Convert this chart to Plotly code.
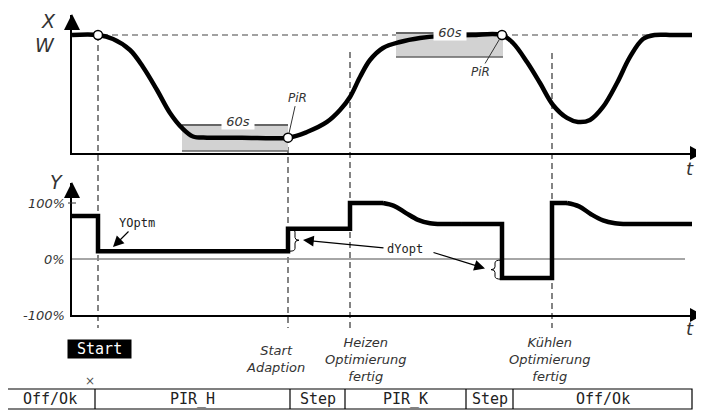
import plotly.graph_objects as go

# the page body adds an 8 px margin, so the figure is 8 px smaller and
# all pixel positions below are given in window coordinates
PAGE = 8
W, H = 704 - PAGE, 412 - PAGE

# upper panel: controlled value X (setpoint W = 100), time in plot units
X_T = [0, 26, 41, 58, 71, 85, 98, 110, 121, 135, 170, 216, 235, 255, 268, 278, 288,
       298, 311, 328, 348, 368, 400, 430, 441, 455, 468, 481, 495, 506, 518, 531,
       545, 558, 571, 583, 600, 620]
X_V = [100, 100, 96.6, 87.3, 72.9, 53.4, 33.9, 21.2, 14, 13, 13, 13, 17.8, 26.3, 36.4,
       47.5, 64.4, 78.8, 89, 94.1, 97.5, 99.2, 100, 100, 93.2, 77.1, 59.3, 40.7, 29.7,
       26.3, 28, 39, 59.3, 81.4, 96.6, 100, 100, 100]
PIR_T = [26, 216, 430]
PIR_V = [100, 13, 100]

# 60 s plateau windows
WIN_T0 = [110, 324]
WIN_T1 = [216, 431]
WIN_LO = [1.7, 81.4]
WIN_HI = [23.7, 101.7]

# lower panel: output Y in %
Y_T = [0, 26, 26, 216, 216, 278, 278, 311, 322, 334, 346, 358, 372, 390, 430, 430,
       480, 480, 495, 507, 519, 531, 543, 557, 575, 620]
Y_V = [77, 77, 14, 14, 54, 54, 100, 100, 95, 82, 70, 64, 62.5, 62.5, 62.5, -34,
       -34, 100, 100, 94, 80, 69, 64, 62.5, 62.5, 62.5]
Y_SEGMENTS = [(0, 7, "linear"), (7, 13, "spline"), (13, 18, "linear"),
              (18, 24, "spline"), (24, 25, "linear")]

EVENT_T = [26, 216, 278, 480]
EVENT_TOP = [35, 137, 52, 53]  # px where the dashed marker starts

TABLE_EDGES = [5, 95, 290, 345, 466, 513, 692]
TABLE_LABELS = ["Off/Ok", "PIR_H", "Step", "PIR_K", "Step", "Off/Ok"]

ITALIC = "'DejaVu Sans', sans-serif"
MONO = "'DejaVu Sans Mono', monospace"


def px(x):
    return (x - PAGE) / W


def py(y):
    return 1 - (y - PAGE) / H


def tri(pts):
    return "M" + " L".join(f"{px(x)},{py(y)}" for x, y in pts) + " Z"


def brace(t0, tm, tip, ya, yb, dy=5):
    ym = (ya + yb) / 2
    return (f"M{t0},{ya} Q{tm},{ya} {tm},{ya - dy} L{tm},{ym + dy} Q{tm},{ym} {tip},{ym} "
            f"Q{tm},{ym} {tm},{ym - dy} L{tm},{yb + dy} Q{tm},{yb} {t0},{yb}")


fig = go.Figure()

fig.add_trace(go.Scatter(x=X_T, y=X_V, mode="lines", line=dict(color="black", width=4.5,
                         shape="spline", smoothing=1), xaxis="x", yaxis="y"))
fig.add_trace(go.Scatter(x=PIR_T, y=PIR_V, mode="markers", cliponaxis=False,
                         marker=dict(size=9, color="white", line=dict(color="black", width=1.5)),
                         xaxis="x", yaxis="y"))
for a, b, shape in Y_SEGMENTS:
    fig.add_trace(go.Scatter(x=Y_T[a:b + 1], y=Y_V[a:b + 1], mode="lines",
                             line=dict(color="black", width=4.5, shape=shape),
                             xaxis="x2", yaxis="y2"))

shapes = []
# setpoint W
shapes.append(dict(type="line", xref="x", yref="y", x0=0, x1=618, y0=100, y1=100,
                   line=dict(color="#444", width=1.2, dash="6px,4px"), layer="below"))
# 60 s windows
for t0, t1, lo, hi in zip(WIN_T0, WIN_T1, WIN_LO, WIN_HI):
    shapes.append(dict(type="rect", xref="x", yref="y", x0=t0, x1=t1, y0=lo, y1=hi,
                       fillcolor="#d2d2d2", line=dict(width=0), layer="below"))
    shapes.append(dict(type="line", xref="x", yref="y", x0=t0, x1=t1, y0=hi, y1=hi,
                       line=dict(color="#666", width=2), layer="below"))
    shapes.append(dict(type="line", xref="x", yref="y", x0=t0, x1=t1, y0=lo, y1=lo,
                       line=dict(color="#666", width=1.5), layer="below"))
# 0 % line
shapes.append(dict(type="line", xref="x2", yref="y2", x0=0, x1=613, y0=0, y1=0,
                   line=dict(color="#888", width=1.5), layer="below"))
# event markers
for t, top in zip(EVENT_T, EVENT_TOP):
    shapes.append(dict(type="line", xref="x", yref="paper", x0=t, x1=t, y0=py(top), y1=py(328),
                       line=dict(color="#333", width=1.2, dash="6px,4px"), layer="below"))
# 100 % tick
shapes.append(dict(type="line", xref="paper", yref="y2", x0=px(68), x1=px(76), y0=100, y1=100,
                   line=dict(color="#333", width=1)))
# axis arrow heads
for pts in ([(72, 14), (64, 30), (80, 30)], [(72, 182), (64, 198), (80, 198)],
            [(703, 153), (690, 146), (690, 160)], [(703, 315), (690, 308), (690, 322)]):
    shapes.append(dict(type="path", xref="paper", yref="paper", path=tri(pts),
                       fillcolor="black", line=dict(width=0)))
# braces for dYopt
shapes.append(dict(type="path", xref="x2", yref="y2", path=brace(218, 223, 227, 53, 14),
                   line=dict(color="black", width=1)))
shapes.append(dict(type="path", xref="x2", yref="y2", path=brace(429, 423, 419, -2, -36),
                   line=dict(color="black", width=1)))
# state table
shapes.append(dict(type="rect", xref="paper", yref="paper", x0=px(5), x1=px(692),
                   y0=py(409), y1=py(389), line=dict(color="black", width=1.2)))
for e in TABLE_EDGES[1:-1]:
    shapes.append(dict(type="line", xref="paper", yref="paper", x0=px(e), x1=px(e),
                       y0=py(409), y1=py(389), line=dict(color="black", width=1.2)))

ann = []


def note(x, y, text, size=13, family=ITALIC, italic=True, color="#333",
         xanchor="center", yanchor="middle", **kw):
    ann.append(dict(xref="paper", yref="paper", x=px(x), y=py(y), text=text, showarrow=False,
                    xanchor=xanchor, yanchor=yanchor,
                    font=dict(family=family, size=size, color=color,
                              style="italic" if italic else "normal"), **kw))


note(48, 21, "X", size=19)
note(45, 45, "W", size=19)
note(56, 182, "Y", size=19)
note(690, 168, "t", size=18)
note(690, 328, "t", size=18)
note(67, 203, "100%", xanchor="right")
note(67, 259, "0%", xanchor="right")
note(67, 315, "-100%", xanchor="right")

# 60s labels
for t, v in [(166, 27.1), (378, 102.5)]:
    ann.append(dict(xref="x", yref="y", x=t, y=v, text=" 60s ", showarrow=False,
                    bgcolor="white", borderpad=0,
                    font=dict(family=ITALIC, size=13, color="#333", style="italic")))
# PiR callouts
for (t, v), (ax, ay) in zip([(PIR_T[1], PIR_V[1]), (PIR_T[2], PIR_V[2])], [(9, -40), (-22, 37)]):
    ann.append(dict(xref="x", yref="y", x=t, y=v, text="PiR", ax=ax, ay=ay, showarrow=True,
                    arrowhead=0, arrowwidth=1, arrowcolor="#333", standoff=4,
                    font=dict(family=ITALIC, size=12, color="#333", style="italic")))

# YOptm / dYopt
ann.append(dict(xref="x2", yref="y2", x=41, y=21.4, text="YOptm", ax=24, ay=-24,
                showarrow=True, arrowhead=2, arrowsize=1.8, arrowwidth=1.2, arrowcolor="black",
                font=dict(family=MONO, size=12, color="#222")))
ann.append(dict(xref="x2", yref="y2", x=333, y=17.9, text="dYopt", showarrow=False,
                font=dict(family=MONO, size=12, color="#222")))
for tip, tail in [((231, 33.9), (313, 19.6)), ((413, -17), (360, 12.5))]:
    ann.append(dict(xref="x2", yref="y2", x=tip[0], y=tip[1], ax=tail[0], ay=tail[1],
                    axref="x2", ayref="y2", text="", showarrow=True, arrowhead=2,
                    arrowsize=1.8, arrowwidth=1.2, arrowcolor="black"))

# event captions
note(99, 349, " Start ", size=15, family=MONO, italic=False, color="white",
     bgcolor="black", borderpad=0)
note(90, 381, "×", size=12, italic=False, color="#555")
note(275, 359, "Start<br>Adaption", align="center")
note(366, 359, "Heizen<br>Optimierung<br>fertig", align="center")
note(550, 359, "Kühlen<br>Optimierung<br>fertig", align="center")

for a, b, lab in zip(TABLE_EDGES[:-1], TABLE_EDGES[1:], TABLE_LABELS):
    note((a + b) / 2, 399, lab, size=15, family=MONO, italic=False, color="#222")

axis_common = dict(showgrid=False, zeroline=False, showticklabels=False, ticks="",
                   showline=True, linecolor="black", linewidth=1.5, fixedrange=True)

fig.update_layout(
    width=W, height=H,
    margin=dict(l=0, r=0, t=0, b=0),
    paper_bgcolor="white",
    plot_bgcolor="white",
    showlegend=False,
    xaxis=dict(domain=[px(72), px(692)], range=[0, 620], anchor="y", **axis_common),
    yaxis=dict(domain=[py(153), py(15)], range=[0, 138 / 1.18], anchor="x", **axis_common),
    xaxis2=dict(domain=[px(72), px(692)], range=[0, 620], anchor="y2", matches="x",
                **axis_common),
    yaxis2=dict(domain=[py(315), py(183)], range=[-100, -100 + 132 / 0.56], anchor="x2",
                **axis_common),
    shapes=shapes,
    annotations=ann,
)

fig.write_html("out.html")
